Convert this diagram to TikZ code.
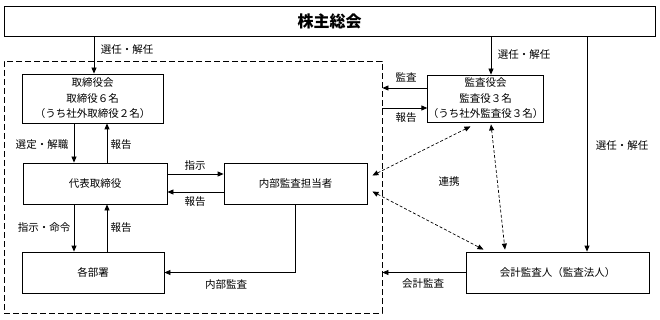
\documentclass[tikz,border=0pt]{standalone}
\usepackage{fontspec}
\setmainfont{Noto Sans CJK JP}
\usetikzlibrary{arrows.meta}
\begin{document}
\begin{tikzpicture}[x=1pt,y=-1pt,
  every node/.style={font=\fontsize{10.5pt}{15.5pt}\selectfont, inner sep=0pt},
  box/.style={draw, line width=0.8pt, align=center},
  lbl/.style={font=\fontsize{10.5pt}{12pt}\selectfont},
  arr/.style={line width=0.8pt, -{Triangle[length=6pt,width=5pt]}},
  dash2/.style={line width=0.7pt, dash pattern=on 3pt off 2pt, {Triangle[length=6pt,width=5pt]}-{Triangle[length=6pt,width=5pt]}},
  grpbox/.style={draw, line width=0.8pt, dash pattern=on 6pt off 3pt}
]
\useasboundingbox (0,0) rectangle (660,320);
% group dashed box
\node[grpbox, minimum width=378pt, minimum height=252pt] (grp) at (193,187) {};
% boxes
\node[box, minimum width=651pt, minimum height=30pt, font=\fontsize{16pt}{18pt}\selectfont\bfseries] (sh) at (329.5,21) {株主総会};
\node[box, minimum width=141pt, minimum height=49pt] (bod) at (92.5,98.5) {取締役会\\取締役６名\\（うち社外取締役２名）};
\node[box, minimum width=144pt, minimum height=41pt] (rep) at (95,183.5) {代表取締役};
\node[box, minimum width=143pt, minimum height=41pt] (ia) at (295.5,183.5) {内部監査担当者};
\node[box, minimum width=142pt, minimum height=41pt] (dep) at (93,272.5) {各部署};
\node[box, minimum width=113pt, minimum height=47pt] (kb) at (485.5,98.5) {監査役会\\監査役３名\\（うち社外監査役３名）};
\node[box, minimum width=183pt, minimum height=41pt] (ka) at (557.5,272.5) {会計監査人（監査法人）};
% solid connectors
\draw[arr] (94,0 |- sh.south) -- (94,0 |- bod.north);
\draw[arr] (74,0 |- bod.south) -- (74,0 |- rep.north);
\draw[arr] (107,0 |- rep.north) -- (107,0 |- bod.south);
\draw[arr] (0,174 -| rep.east) -- (0,174 -| ia.west);
\draw[arr] (0,192 -| ia.west) -- (0,192 -| rep.east);
\draw[arr] (74,0 |- rep.south) -- (74,0 |- dep.north);
\draw[arr] (107,0 |- dep.north) -- (107,0 |- rep.south);
\draw[arr] (295,0 |- ia.south) -- (295,0 |- dep.east) -- (dep.east);
\draw[arr] (491,0 |- sh.south) -- (491,0 |- kb.north);
\draw[arr] (0,88 -| kb.west) -- (0,88 -| grp.east);
\draw[arr] (0,108 -| grp.east) -- (0,108 -| kb.west);
\draw[arr] (587,0 |- sh.south) -- (587,0 |- ka.north);
\draw[arr] (ka.west) -- (ka.west -| grp.east);
% dashed connectors
\draw[dash2] ([shift={(5pt,8pt)}]ia.east) -- ([shift={(-15pt,-4pt)}]kb.south);
\draw[dash2] ([shift={(5pt,-8pt)}]ia.east) -- ([shift={(-74pt,2pt)}]ka.north);
\draw[dash2] ([shift={(5.5pt,-2pt)}]kb.south) -- ([shift={(-52.5pt,2pt)}]ka.north);
% labels
\node[lbl] (l1) at (127,50) {選任・解任};
\node[lbl] (l2) at (42,145) {選定・解職};
\node[lbl] (l3) at (121,145) {報告};
\node[lbl] (l4) at (195,166) {指示};
\node[lbl] (l5) at (195,202) {報告};
\node[lbl] (l6) at (44,228) {指示・命令};
\node[lbl] (l7) at (121,228) {報告};
\node[lbl] (l8) at (226,285) {内部監査};
\node[lbl] (l9) at (406,77) {監査};
\node[lbl] (l10) at (406,118) {報告};
\node[lbl] (l11) at (524,55) {選任・解任};
\node[lbl] (l12) at (622,146) {選任・解任};
\node[lbl] (l13) at (449,182) {連携};
\node[lbl] (l14) at (423,284) {会計監査};
\end{tikzpicture}
\end{document}
